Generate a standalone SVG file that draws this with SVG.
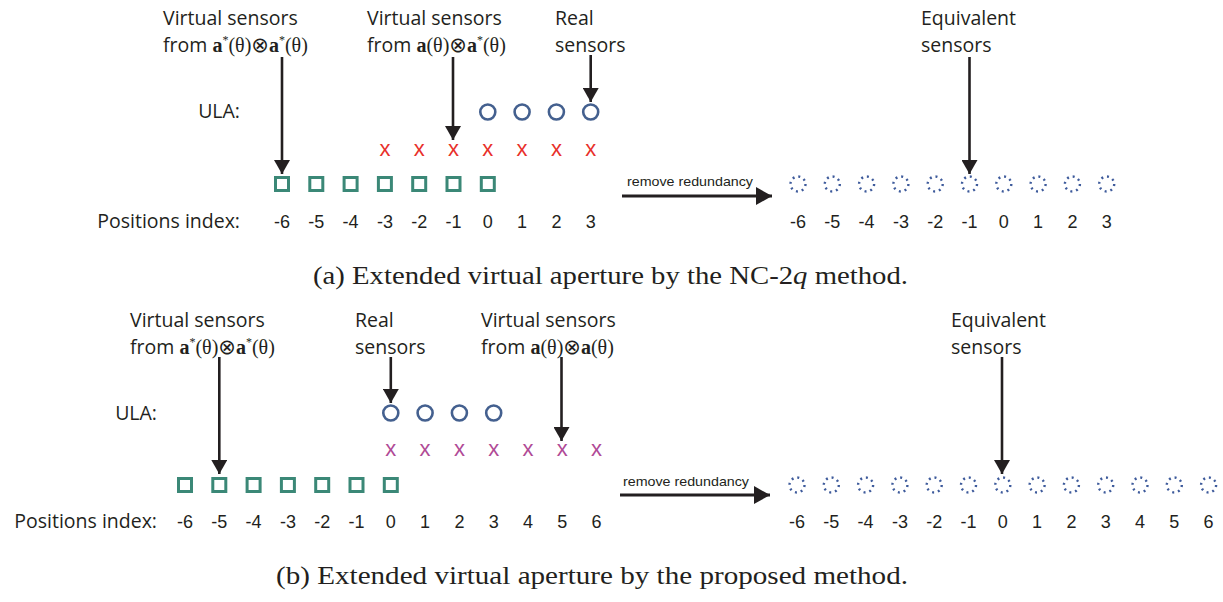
<svg xmlns="http://www.w3.org/2000/svg" width="1223" height="602" viewBox="0 0 1223 602">
  <style>
    .lbl { font-family: "Open Sans", "Noto Sans", sans-serif; font-size: 19.5px; fill: #231f20; }
    .m { font-family: "Liberation Serif", serif; font-size: 20px; }
    .op { font-family: "DejaVu Sans", sans-serif; font-size: 21px; }
    .b { font-weight: bold; }
    .sup { font-size: 12px; }
    .idx { font-family: "Liberation Sans", Arial, sans-serif; font-size: 18px; fill: #231f20; text-anchor: middle; }
    .xr { font-family: "Liberation Sans", Arial, sans-serif; font-size: 22px; fill: #e8302a; text-anchor: middle; }
    .xm { font-family: "Liberation Sans", Arial, sans-serif; font-size: 22px; fill: #b04a96; text-anchor: middle; }
    .sq { fill: #ffffff; stroke: #3b8877; stroke-width: 3; }
    .ci { fill: none; stroke: #44608f; stroke-width: 2.6; }
    .dc { fill: none; stroke: #3d5a9b; stroke-width: 2.4; stroke-dasharray: 2 3.9; }
    .arr { stroke: #231f20; stroke-width: 2.6; fill: none; marker-end: url(#head); }
    .arr2 { stroke: #231f20; stroke-width: 3; fill: none; marker-end: url(#head2); }
    .rr { font-family: "Liberation Sans", Arial, sans-serif; font-size: 13px; fill: #231f20; }
    .cap { font-family: "Liberation Serif", "DejaVu Serif", serif; font-size: 25px; fill: #231f20; }
  </style>
  <defs>
    <marker id="head" markerUnits="userSpaceOnUse" markerWidth="16" markerHeight="16" refX="14" refY="8" orient="auto">
      <path d="M0,0 L14,8 L0,16 z" fill="#231f20"/>
    </marker>
    <marker id="head2" markerUnits="userSpaceOnUse" markerWidth="18" markerHeight="18" refX="16" refY="9" orient="auto">
      <path d="M0,0 L16,9 L0,18 z" fill="#231f20"/>
    </marker>
    <rect id="sqr" x="-6.5" y="-6.5" width="13" height="13" class="sq"/>
    <circle id="cir" r="7.5" class="ci"/>
    <circle id="dcir" r="7.5" class="dc"/>
  </defs>

  <!-- ===== (a) NC-2q ===== -->
  <g id="a-labels">
    <text class="lbl" x="163" y="25">Virtual sensors</text>
    <text class="lbl" x="163" y="52">from <tspan class="m b">a</tspan><tspan class="m sup" dy="-8">*</tspan><tspan class="m" dy="8">(θ)</tspan><tspan class="op">⊗</tspan><tspan class="m b">a</tspan><tspan class="m sup" dy="-8">*</tspan><tspan class="m" dy="8">(θ)</tspan></text>
    <text class="lbl" x="367" y="25">Virtual sensors</text>
    <text class="lbl" x="367" y="52">from <tspan class="m b">a</tspan><tspan class="m">(θ)</tspan><tspan class="op">⊗</tspan><tspan class="m b">a</tspan><tspan class="m sup" dy="-8">*</tspan><tspan class="m" dy="8">(θ)</tspan></text>
    <text class="lbl" x="555" y="25">Real</text>
    <text class="lbl" x="555" y="52">sensors</text>
    <text class="lbl" x="921" y="25">Equivalent</text>
    <text class="lbl" x="921" y="52">sensors</text>
    <text class="lbl" x="240" y="118" text-anchor="end">ULA:</text>
    <text class="lbl" x="240" y="228" text-anchor="end">Positions index:</text>
  </g>

  <g id="a-ula">
    <use href="#cir" x="487.8" y="112"/>
    <use href="#cir" x="522.1" y="112"/>
    <use href="#cir" x="556.4" y="112"/>
    <use href="#cir" x="590.7" y="112"/>
  </g>
  <g id="a-virtual-conj">
    <text class="xr" x="384.9" y="156">x</text>
    <text class="xr" x="419.2" y="156">x</text>
    <text class="xr" x="453.5" y="156">x</text>
    <text class="xr" x="487.8" y="156">x</text>
    <text class="xr" x="522.1" y="156">x</text>
    <text class="xr" x="556.4" y="156">x</text>
    <text class="xr" x="590.7" y="156">x</text>
  </g>
  <g id="a-virtual-sq">
    <use href="#sqr" x="282" y="184"/>
    <use href="#sqr" x="316.3" y="184"/>
    <use href="#sqr" x="350.6" y="184"/>
    <use href="#sqr" x="384.9" y="184"/>
    <use href="#sqr" x="419.2" y="184"/>
    <use href="#sqr" x="453.5" y="184"/>
    <use href="#sqr" x="487.8" y="184"/>
  </g>
  <g id="a-index">
    <text class="idx" x="282" y="228">-6</text>
    <text class="idx" x="316.3" y="228">-5</text>
    <text class="idx" x="350.6" y="228">-4</text>
    <text class="idx" x="384.9" y="228">-3</text>
    <text class="idx" x="419.2" y="228">-2</text>
    <text class="idx" x="453.5" y="228">-1</text>
    <text class="idx" x="487.8" y="228">0</text>
    <text class="idx" x="522.1" y="228">1</text>
    <text class="idx" x="556.4" y="228">2</text>
    <text class="idx" x="590.7" y="228">3</text>
  </g>
  <g id="a-equivalent">
    <use href="#dcir" x="798" y="184"/>
    <use href="#dcir" x="832.3" y="184"/>
    <use href="#dcir" x="866.6" y="184"/>
    <use href="#dcir" x="900.9" y="184"/>
    <use href="#dcir" x="935.2" y="184"/>
    <use href="#dcir" x="969.5" y="184"/>
    <use href="#dcir" x="1003.8" y="184"/>
    <use href="#dcir" x="1038.1" y="184"/>
    <use href="#dcir" x="1072.4" y="184"/>
    <use href="#dcir" x="1106.7" y="184"/>
    <text class="idx" x="798" y="228">-6</text>
    <text class="idx" x="832.3" y="228">-5</text>
    <text class="idx" x="866.6" y="228">-4</text>
    <text class="idx" x="900.9" y="228">-3</text>
    <text class="idx" x="935.2" y="228">-2</text>
    <text class="idx" x="969.5" y="228">-1</text>
    <text class="idx" x="1003.8" y="228">0</text>
    <text class="idx" x="1038.1" y="228">1</text>
    <text class="idx" x="1072.4" y="228">2</text>
    <text class="idx" x="1106.7" y="228">3</text>
  </g>

  <!-- ===== (b) proposed ===== -->
  <g id="b-labels">
    <text class="lbl" x="130" y="327">Virtual sensors</text>
    <text class="lbl" x="130" y="354">from <tspan class="m b">a</tspan><tspan class="m sup" dy="-8">*</tspan><tspan class="m" dy="8">(θ)</tspan><tspan class="op">⊗</tspan><tspan class="m b">a</tspan><tspan class="m sup" dy="-8">*</tspan><tspan class="m" dy="8">(θ)</tspan></text>
    <text class="lbl" x="355" y="327">Real</text>
    <text class="lbl" x="355" y="354">sensors</text>
    <text class="lbl" x="481" y="327">Virtual sensors</text>
    <text class="lbl" x="481" y="354">from <tspan class="m b">a</tspan><tspan class="m">(θ)</tspan><tspan class="op">⊗</tspan><tspan class="m b">a</tspan><tspan class="m">(θ)</tspan></text>
    <text class="lbl" x="951" y="327">Equivalent</text>
    <text class="lbl" x="951" y="354">sensors</text>
    <text class="lbl" x="157" y="420" text-anchor="end">ULA:</text>
    <text class="lbl" x="157" y="528" text-anchor="end">Positions index:</text>
  </g>

  <g id="b-ula">
    <use href="#cir" x="390.8" y="413"/>
    <use href="#cir" x="425.1" y="413"/>
    <use href="#cir" x="459.4" y="413"/>
    <use href="#cir" x="493.7" y="413"/>
  </g>
  <g id="b-virtual-x">
    <text class="xm" x="390.8" y="456">x</text>
    <text class="xm" x="425.1" y="456">x</text>
    <text class="xm" x="459.4" y="456">x</text>
    <text class="xm" x="493.7" y="456">x</text>
    <text class="xm" x="528" y="456">x</text>
    <text class="xm" x="562.3" y="456">x</text>
    <text class="xm" x="596.6" y="456">x</text>
  </g>
  <g id="b-virtual-sq">
    <use href="#sqr" x="185" y="485"/>
    <use href="#sqr" x="219.3" y="485"/>
    <use href="#sqr" x="253.6" y="485"/>
    <use href="#sqr" x="287.9" y="485"/>
    <use href="#sqr" x="322.2" y="485"/>
    <use href="#sqr" x="356.5" y="485"/>
    <use href="#sqr" x="390.8" y="485"/>
  </g>
  <g id="b-index">
    <text class="idx" x="185" y="528">-6</text>
    <text class="idx" x="219.3" y="528">-5</text>
    <text class="idx" x="253.6" y="528">-4</text>
    <text class="idx" x="287.9" y="528">-3</text>
    <text class="idx" x="322.2" y="528">-2</text>
    <text class="idx" x="356.5" y="528">-1</text>
    <text class="idx" x="390.8" y="528">0</text>
    <text class="idx" x="425.1" y="528">1</text>
    <text class="idx" x="459.4" y="528">2</text>
    <text class="idx" x="493.7" y="528">3</text>
    <text class="idx" x="528" y="528">4</text>
    <text class="idx" x="562.3" y="528">5</text>
    <text class="idx" x="596.6" y="528">6</text>
  </g>
  <g id="b-equivalent">
    <use href="#dcir" x="797" y="485"/>
    <use href="#dcir" x="831.3" y="485"/>
    <use href="#dcir" x="865.6" y="485"/>
    <use href="#dcir" x="899.9" y="485"/>
    <use href="#dcir" x="934.2" y="485"/>
    <use href="#dcir" x="968.5" y="485"/>
    <use href="#dcir" x="1002.8" y="485"/>
    <use href="#dcir" x="1037.1" y="485"/>
    <use href="#dcir" x="1071.4" y="485"/>
    <use href="#dcir" x="1105.7" y="485"/>
    <use href="#dcir" x="1140" y="485"/>
    <use href="#dcir" x="1174.3" y="485"/>
    <use href="#dcir" x="1208.6" y="485"/>
    <text class="idx" x="797" y="528">-6</text>
    <text class="idx" x="831.3" y="528">-5</text>
    <text class="idx" x="865.6" y="528">-4</text>
    <text class="idx" x="899.9" y="528">-3</text>
    <text class="idx" x="934.2" y="528">-2</text>
    <text class="idx" x="968.5" y="528">-1</text>
    <text class="idx" x="1002.8" y="528">0</text>
    <text class="idx" x="1037.1" y="528">1</text>
    <text class="idx" x="1071.4" y="528">2</text>
    <text class="idx" x="1105.7" y="528">3</text>
    <text class="idx" x="1140" y="528">4</text>
    <text class="idx" x="1174.3" y="528">5</text>
    <text class="idx" x="1208.6" y="528">6</text>
  </g>

  <!-- connectors -->
  <g id="connectors">
    <line class="arr" x1="282" y1="57" x2="282" y2="174"/>
    <line class="arr" x1="453" y1="57" x2="453" y2="140"/>
    <line class="arr" x1="590.7" y1="55" x2="590.7" y2="102"/>
    <line class="arr" x1="969.5" y1="57" x2="969.5" y2="174"/>
    <line class="arr2" x1="622" y1="196" x2="772" y2="196"/>

    <line class="arr" x1="219.3" y1="357" x2="219.3" y2="474"/>
    <line class="arr" x1="390.8" y1="357" x2="390.8" y2="403"/>
    <line class="arr" x1="561.5" y1="357" x2="561.5" y2="441"/>
    <line class="arr" x1="1002" y1="357" x2="1002" y2="474"/>
    <line class="arr2" x1="620" y1="495" x2="770" y2="495"/>
  </g>
  <text class="rr" x="627" y="186" textLength="126" lengthAdjust="spacingAndGlyphs">remove redundancy</text>
  <text class="rr" x="623" y="486" textLength="126" lengthAdjust="spacingAndGlyphs">remove redundancy</text>

  <!-- captions -->
  <text class="cap" x="313" y="284" textLength="595" lengthAdjust="spacingAndGlyphs">(a)  Extended virtual aperture by the NC-2<tspan font-style="italic">q</tspan> method.</text>
  <text class="cap" x="276" y="584" textLength="632" lengthAdjust="spacingAndGlyphs">(b)  Extended virtual aperture by the proposed method.</text>
</svg>
